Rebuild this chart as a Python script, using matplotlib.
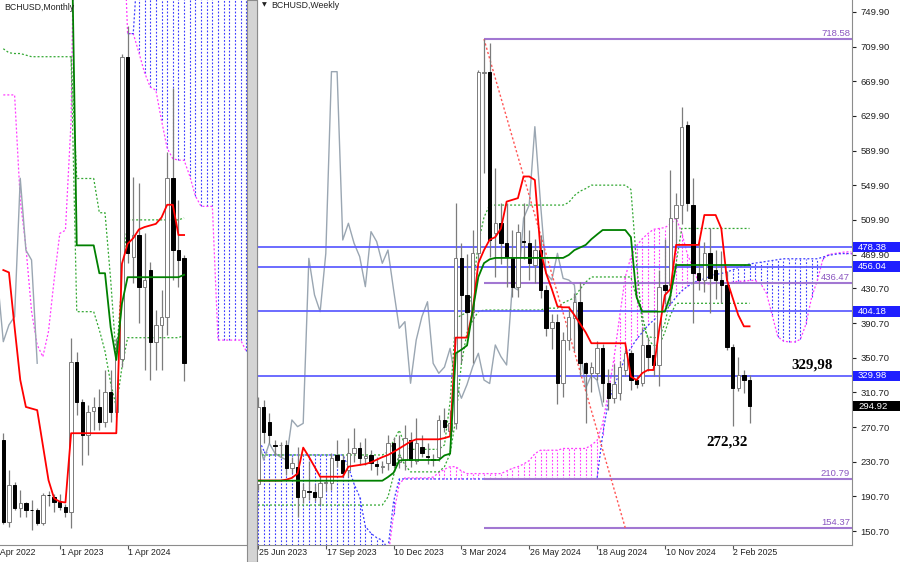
import numpy as np
import matplotlib
matplotlib.use("Agg")
import matplotlib.pyplot as plt
import matplotlib.transforms as mtransforms
from matplotlib.patches import Rectangle

plt.rcParams["font.family"] = ["Liberation Sans", "DejaVu Sans"]

nan = np.nan

# ---------------- weekly BCHUSD (week 0 = 25 Jun 2023) ----------------
w_open = [205, 294, 277, 250, 250, 250, 223.5, 225, 190.3, 197,
          196, 190.3, 206, 205.8, 238.5, 232.7, 221, 240.4, 246.2, 234.6,
          238.5, 228, 225, 229, 252, 230, 232.7, 255.8, 232, 248,
          237, 233.5, 236.5, 278.9, 266, 275, 465.5, 423.3, 404, 471.2,
          680, 681, 494.4, 506, 483, 467.4, 432.8, 485.5, 483, 457.8,
          475.1, 429, 384.8, 392.4, 321.3, 371.2, 396.3, 415.4, 344.3, 333,
          332.8, 361.6, 321.3, 304, 309.7, 336.6, 355.9, 325, 321.3, 365.5,
          354, 342.4, 434.7, 434.7, 511.7, 527.1, 619.5, 527.1, 448.2, 440.5,
          471.3, 452, 440.5, 434.7, 363.5, 315.5, 330.8, 325]
w_high = [305, 302, 287, 256, 254, 256, 236.5, 248, 205.8, 232,
          205, 213.4, 215, 240.4, 255.8, 238.5, 257.7, 269.3, 253.8, 257.7,
          244.3, 236.5, 232, 261.5, 259.6, 262, 273, 265.4, 281, 262,
          252, 240, 284.7, 292.3, 290, 529, 482.8, 470, 498, 683,
          718.58, 714, 569.5, 529, 529, 498, 505, 529, 498, 488,
          493, 435, 401, 401, 380, 410, 425, 438, 346, 346,
          370, 367, 338, 343, 347, 360, 360, 331, 385, 375,
          392, 452, 488, 567.5, 540.5, 640.6, 624.4, 557.9, 484.8, 484,
          500, 475, 474, 451, 367, 352, 336.6, 330.8]
w_low = [198, 252, 252, 238, 236, 215, 217.7, 167, 182.7, 186.5,
         185, 180.7, 197, 198, 225, 213.4, 213.4, 230.8, 227, 227,
         221, 215.4, 218, 221, 223, 224, 221, 225, 228, 236,
         228, 226, 232, 265.4, 262, 268, 344.3, 382.7, 344.3, 460,
         564, 467.4, 444.3, 459, 432, 421, 421, 465, 440, 437,
         420, 376, 361, 297, 305, 360, 358, 330, 275, 311,
         325, 300, 290, 298, 302, 330, 313, 316, 318, 335,
         330, 318, 413, 413, 478, 505, 520, 390.8, 429, 427,
         402, 418, 413.7, 360, 272.32, 312, 310, 275]
w_close = [294, 265, 262, 249, 250.5, 223.5, 229.6, 190.3, 198, 195.5,
           190.3, 205.8, 207, 234.6, 232.7, 217.3, 240.4, 246.2, 234.6, 237,
           229, 226, 225.5, 252, 227, 236, 257.7, 232.7, 252, 240.4,
           236, 233, 278.9, 271.2, 275, 465.5, 423.3, 404, 471.2, 681,
           681, 486.7, 506, 483, 467.4, 432.8, 496.3, 484.9, 459.8, 475.1,
           429, 384.8, 392.4, 321.3, 371.2, 398, 415.4, 344.3, 332.8, 340,
           361.6, 321.3, 304, 320, 340.4, 355.9, 325, 321, 365.5, 352,
           342.4, 432.8, 429, 511.7, 527.1, 617.5, 529, 448.2, 440.5, 471.3,
           442.4, 440.5, 434.7, 363.5, 315.5, 330.8, 325, 294.92]

w_tenkan = [209, 209, 209, 209, 209, 210, 212, 217, 247, 236.5,
            225, 213.4, 213.4, 213.4, 213.4, 213.4, 225, 226, 227, 228,
            230, 233, 236, 238.5, 242, 246, 250, 254, 256.6, 256.6,
            256.6, 256.6, 256.6, 258, 260, 374, 374, 374, 405, 460,
            475, 487, 490, 500, 531, 533, 535, 560, 560, 556,
            475, 448, 430, 410, 409, 409, 400, 390, 380, 367.5,
            367.5, 367.5, 367.5, 367.5, 367.5, 367.5, 329, 325, 333, 336.6,
            336.6, 383, 423, 430, 481, 481, 481, 481, 481, 515.5,
            515.5, 515.5, 500, 440.5, 420, 400, 387, 387]
w_kijun = [208.8] * 23 + [213, 218, 232, 232.7, 232.7, 232.7, 232.7,
                          232.7, 232.7, 232.7, 238, 240, 356, 360, 365, 405, 444,
                          460, 464.4, 466, 466, 466, 466, 466, 466, 466, 466,
                          466, 466, 466, 466, 466, 469.4, 475, 478, 481, 487.6,
                          493, 498.2, 498.2, 498.2, 498.2, 498.2, 490, 421, 404, 404,
                          404, 404, 404, 423] + [457.8] * 14
w_dot_upper = [238.5] * 23 + [242, 255, 267, 250, 245, 245, 245,
                              245, 245, 245, 250, 300, 396, 400, 403, 430, 483,
                              513] + [527] * 14 + [530, 538, 543, 546, 550,
                              550, 550, 550, 550, 550, 550, 545, 460, 390, 375,
                              374, 374, 390, 420, 460] + [500] * 13
w_dot_lower = [180.7] * 23 + [190, 215, 240, 227, 219, 219, 219,
                              219, 219, 219, 225, 240, 280, 344, 380, 394, 404] + \
              [405.8] * 11 + [408, 408, 408, 414, 417, 420, 430, 438, 444,
                              444, 444, 444, 444, 444, 444, 444, 420, 400, 372,
                              365, 365, 380, 400] + [413.6] * 14

# kumo, plotted 26 weeks ahead (weeks 0..105)
w_span_b = [258, 244] + [238.5] * 14 + [225, 205, 190, 156,
            148, 143, 140, 130, 185] + [210.79] * 35 + \
           [211, 262, 300, 318, 333, 352, 362, 372, 380, 388,
            394, 400, 406, 412, 421, 428, 433, 437, 440, 442,
            445, 447, 448, 450, 452, 455, 457, 459, 460, 461,
            462, 463, 464, 465, 465, 465, 465, 465, 465, 465,
            467, 469, 470, 471, 471, 471]
w_span_a = [110] * 23 + [120, 170, 205, 212, 212, 212, 212,
            212, 213, 218, 222, 225, 225, 220, 217, 217, 217,
            217, 217, 217, 217, 220, 223, 225, 228, 232, 240,
            244, 244, 244, 244, 246, 246, 246, 246, 246, 250,
            255, 275, 310, 350, 398, 444, 467, 480, 488, 494,
            499, 500, 501, 505, 512, 495, 470, 455, 437, 436,
            436, 437, 437, 437, 438, 439, 439, 440, 440, 436,
            425, 400, 375, 370, 369, 369, 372, 390, 421, 440,
            465, 470, 471, 472, 473, 473]

w_tick_weeks = [0, 12, 24, 36, 48, 60, 72, 84]
w_tick_labels = ["25 Jun 2023", "17 Sep 2023", "10 Dec 2023", "3 Mar 2024",
                 "26 May 2024", "18 Aug 2024", "10 Nov 2024", "2 Feb 2025"]
price_ticks = [749.90, 709.90, 669.90, 629.90, 589.90, 549.90, 509.90, 469.90,
               430.70, 390.70, 350.70, 310.70, 270.70, 230.70, 190.70, 150.70]

blue_levels = [478.38, 456.04, 404.18, 329.98]
purple_levels = [718.58, 436.47, 210.79, 154.37]
purple_start_week = 40
fibo_weeks = [40, 65]
fibo_prices = [718.58, 154.37]
notes = ["329,98", "272,32"]
note_weeks = [98.1, 83.1]
note_prices = [342.4, 253.8]

# ---------------- monthly BCHUSD (month 0 = Jun 2022) ----------------
m_open = [198.5, 95.8, 141.9, 112.7, 119, 110.5, 110.5, 93.8, 129.4, 127.3,
          121, 114.7, 108.4, 296.8, 246.6, 204.8, 235.3, 240.3, 221.5, 259,
          234, 300, 680, 428.8, 456, 391, 412, 322, 343, 353.4,
          527.3, 437, 426.8]
m_high = [206.9, 160.8, 146, 135.7, 121, 123, 113, 132, 135, 131,
          131, 118, 326.2, 309.4, 250, 242, 253, 263, 286, 286,
          326, 684, 718.58, 529.3, 521, 458, 422.5, 361.8, 387, 560,
          640.6, 500, 430.9]
m_low = [93, 89.6, 110.5, 102, 102, 85.4, 92, 92, 115, 108.4,
         110, 101.5, 87.5, 230, 167, 180, 211, 211, 215, 221,
         228, 290, 420.5, 395.3, 345, 286.4, 273.9, 286.4, 286.4, 330,
         399.5, 391, 272.32]
m_close = [95.8, 141.9, 112.7, 119, 110.5, 110, 93.8, 129.4, 129, 121,
           114.7, 108.4, 296.8, 246.6, 204.8, 234, 240.3, 221.5, 259, 234,
           310, 680, 433, 456, 391, 399.5, 322, 343, 353.4, 527.3,
           437, 424.6, 294.92]

m_tenkan = [412, 409, 340, 274, 240, 238, 236, 192, 148, 125,
            121, 120] + [207] * 9 + [420, 445, 452, 463, 466, 468, 470, 478, 494,
            494, 456, 456]
m_kijun = [880] * 13 + [443] * 4 + [408, 408, 340, 299, 370] + [403] * 10 + [406]
m_dot_upper = [690, 685, 684, 684, 682] + [680] * 8 + [527] * 4 + \
              [484, 484, 400, 300, 400] + [475] * 10 + [477.5]
m_dot_lower = [nan] * 12 + [680] + [359.7] * 4 + [336.7, 310, 270, 240, 290] + \
              [327] * 10 + [330]
m_span_a = [632, 632, 632, 500, 441, 360, 318, 303, 335, 400,
            458, 462, 600] + [1100] * 8 + [900, 709, 709, 685, 660, 642, 638,
            600, 565, 552, 550, 550, 530, 505, 492, 492, 492] + [324] * 5 + [310]
m_span_b = [nan] * 22 + [709, 709] + [820] * 20

m_tick_months = [-2, 10, 22]
m_tick_labels = ["1 Apr 2022", "1 Apr 2023", "1 Apr 2024"]

# ---------------- styling ----------------
RED = "#ff0000"
GREEN = "#008000"
DOTGREEN = "#33a833"
CHIKOU = "#9aa6b2"
KUMO_BLUE = "#3c3cff"
KUMO_PINK = "#ff3cff"
LEVEL_BLUE = "#6060ff"
LEVEL_PURPLE = "#a277d2"
DOTS = (0, (1.6, 1.6))
FS = 6.3
FS_PRICE = 6.8


def draw_candles(ax, o, h, l, c, width=0.6):
    for i, (op, hi, lo, cl) in enumerate(zip(o, h, l, c)):
        bull = cl >= op
        ax.vlines(i, lo, hi, color="#7c7c7c", lw=0.9, zorder=3)
        ax.add_patch(Rectangle((i - width / 2, min(op, cl)), width,
                               max(abs(cl - op), 0.2),
                               facecolor="white" if bull else "black",
                               edgecolor="#7c7c7c" if bull else "black",
                               lw=0.7, zorder=3.1))


def draw_cloud(ax, a, b):
    a = np.asarray(a, float)
    b = np.asarray(b, float)
    x = np.arange(len(a))
    for i in x:
        if np.isnan(a[i]) or np.isnan(b[i]) or a[i] == b[i]:
            continue
        col = KUMO_BLUE if b[i] > a[i] else KUMO_PINK
        ax.vlines(i, min(a[i], b[i]), max(a[i], b[i]), colors=col,
                  linestyles=DOTS, lw=0.8, zorder=1)
    ax.plot(x, a, color=KUMO_PINK, ls=DOTS, lw=0.9, zorder=1.2)
    ax.plot(x, b, color=KUMO_BLUE, ls=DOTS, lw=0.9, zorder=1.2)


def draw_ichimoku(ax, o, h, l, c, tenkan, kijun, dot_up, dot_lo, span_a, span_b):
    draw_cloud(ax, span_a, span_b)
    closes = np.asarray(c, float)
    # chikou: close shifted 26 bars back
    ax.plot(np.arange(len(closes)) - 26, closes, color=CHIKOU, lw=1.0, zorder=2.2)
    ax.plot(np.arange(len(dot_up)), dot_up, color=DOTGREEN, ls=DOTS, lw=0.9, zorder=2.4)
    ax.plot(np.arange(len(dot_lo)), dot_lo, color=DOTGREEN, ls=DOTS, lw=0.9, zorder=2.4)
    draw_candles(ax, o, h, l, c)
    ax.plot(np.arange(len(tenkan)), tenkan, color=RED, lw=1.3, zorder=4)
    ax.plot(np.arange(len(kijun)), kijun, color=GREEN, lw=1.3, zorder=4.1)


W, H = 900, 562
fig = plt.figure(figsize=(W / 100, H / 100), dpi=100)
fig.patch.set_facecolor("white")

axL = fig.add_axes([0, 17 / H, 247 / W, 545 / H])
axR = fig.add_axes([257 / W, 17 / H, 595 / W, 545 / H])

# gap between the two chart windows
fig.patches.append(Rectangle((247 / W, 0), 10 / W, 1, transform=fig.transFigure,
                             facecolor="#d4d4d4", edgecolor="#8c8c8c", lw=0.8))

# ---- monthly window ----
draw_ichimoku(axL, m_open, m_high, m_low, m_close, m_tenkan, m_kijun,
              m_dot_upper, m_dot_lower, m_span_a, m_span_b)
axL.set_xlim(-0.584, 43.13)
axL.set_ylim(66.58, 751.24)
axL.set_yticks([])
axL.set_xticks([t for t in m_tick_months if t >= 0])
axL.set_xticklabels([])
axL.tick_params(axis="x", length=3, color="#555555")
for s in ["top", "left"]:
    axL.spines[s].set_visible(False)
for s in ["right", "bottom"]:
    axL.spines[s].set_color("#8c8c8c")
tL = mtransforms.blended_transform_factory(axL.transData, axL.transAxes)
for pos, lab in zip(m_tick_months, m_tick_labels):
    axL.text(pos + 0.15, -0.006, lab, transform=tL, ha="left", va="top",
             fontsize=FS, color="#222222", clip_on=False)
fig.text(4 / W, 1 - 7 / H, "BCHUSD,Monthly", fontsize=FS, color="#222222",
         ha="left", va="center")

# ---- weekly window ----
draw_ichimoku(axR, w_open, w_high, w_low, w_close, w_tenkan, w_kijun,
              w_dot_upper, w_dot_lower, w_span_a, w_span_b)
xr0, xr1 = -0.177, 105.13
axR.set_xlim(xr0, xr1)
axR.set_ylim(134.57, 763.75)

for lvl in blue_levels:
    axR.axhline(lvl, color=LEVEL_BLUE, lw=1.3, zorder=2.6)
axR.hlines(purple_levels, purple_start_week, xr1, color=LEVEL_PURPLE, lw=1.5, zorder=2.6)
axR.plot(fibo_weeks, fibo_prices, color="#ff5555", ls=DOTS, lw=1.0, zorder=2.7)

tYR = mtransforms.blended_transform_factory(axR.transAxes, axR.transData)
for lvl in purple_levels:
    axR.text(1 - 2 / 595, lvl + 1.2, f"{lvl:.2f}", transform=tYR, ha="right",
             va="bottom", fontsize=FS_PRICE, color="#8a55c0", zorder=6)

for txt, wk, pr in zip(notes, note_weeks, note_prices):
    axR.text(wk, pr, txt, ha="center", va="center", fontsize=10.8,
             fontweight="bold", family=["Liberation Serif", "DejaVu Serif"],
             color="black", zorder=8)

axR.yaxis.tick_right()
axR.set_yticks(price_ticks)
axR.set_yticklabels([f"{p:.2f}" for p in price_ticks])
axR.tick_params(axis="y", length=3, pad=3, labelsize=FS_PRICE, colors="#222222")
axR.set_xticks(w_tick_weeks)
axR.set_xticklabels([])
axR.tick_params(axis="x", length=3, color="#555555")
axR.spines["top"].set_visible(False)
for s in ["left", "right", "bottom"]:
    axR.spines[s].set_color("#8c8c8c")

tR = mtransforms.blended_transform_factory(axR.transData, axR.transAxes)
for pos, lab in zip(w_tick_weeks, w_tick_labels):
    axR.text(pos + 0.15, -0.006, lab, transform=tR, ha="left", va="top",
             fontsize=FS, color="#222222", clip_on=False)

# price boxes on the scale
box_levels = blue_levels + [w_close[-1]]
box_colors = ["#1f1fff"] * len(blue_levels) + ["black"]
half = 5.2 / 0.8662
for lvl, fc in zip(box_levels, box_colors):
    axR.add_patch(Rectangle((1.0015, lvl - half), 48 / 595, 2 * half, transform=tYR,
                            facecolor=fc, edgecolor="none", clip_on=False, zorder=9))
    axR.text(1 + 6 / 595, lvl, f"{lvl:.2f}", transform=tYR, ha="left", va="center",
             fontsize=FS_PRICE, color="white", zorder=10, clip_on=False)

fig.text(262 / W, 1 - 5 / H, "\u25bc", fontsize=4.5, color="#222222",
         ha="left", va="center", family=["DejaVu Sans"])
fig.text(271 / W, 1 - 5 / H, "BCHUSD,Weekly", fontsize=FS, color="#222222",
         ha="left", va="center")

fig.savefig("out.png", dpi=100, facecolor="white")
